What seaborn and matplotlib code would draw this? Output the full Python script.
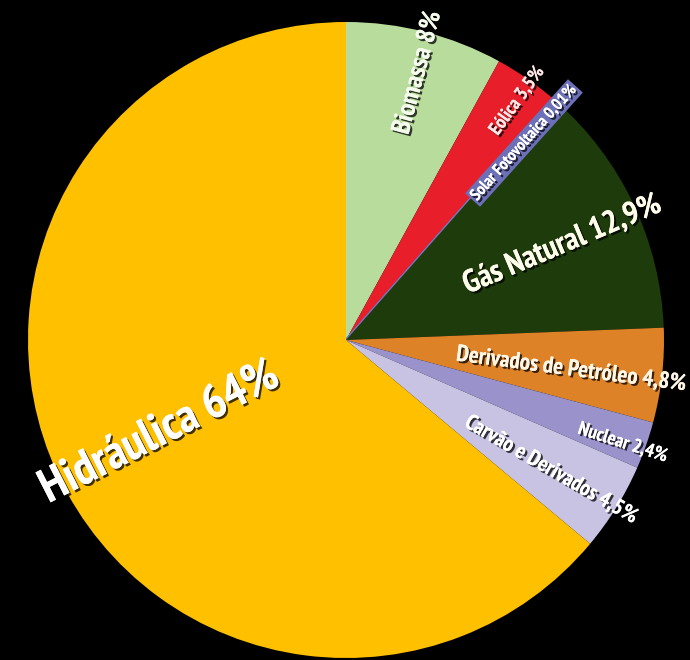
import numpy as np
import matplotlib
matplotlib.use("Agg")
import matplotlib.pyplot as plt
import matplotlib.patheffects as pe
from matplotlib import font_manager
import seaborn as sns

# Matriz elétrica brasileira (participação %)
fontes = ["Biomassa", "Eólica", "Solar Fotovoltaica", "Gás Natural",
          "Derivados de Petróleo", "Nuclear", "Carvão e Derivados", "Hidráulica"]
valores = [8.0, 3.5, 0.01, 12.9, 4.8, 2.4, 4.5, 64.0]
rotulos = ["Biomassa 8%", "Eólica 3,5%", "Solar Fotovoltaica 0,01%", "Gás Natural 12,9%",
           "Derivados de Petróleo 4,8%", "Nuclear 2,4%", "Carvão e Derivados 4,5%",
           "Hidráulica 64%"]
cores = ["#B8DC9C", "#E81E2B", "#7276C0", "#1E3B0C",
         "#DE8227", "#9A93CB", "#C8C2E3", "#FFC000"]

# label placement: (radius, angle in degrees), rotation, text length in pixels
rot_pos = [(0.870, 75.0), (0.925, 54.4), (0.835, 47.9), (0.742, 23.7),
           (0.714, -7.6), (0.929, -20.4), (0.763, -32.4), (0.654, 206.6)]
rot_ang = [75, 54, 48, 23, -7.5, -18, -30, 27]
rot_len = [126, 80, 150, 212, 232, 93, 196, 262]
rot_cor = ["#F4FAEC", "#FFE6E6", "#FFFFFF", "#FFFCEB",
           "#FFF6E6", "#FFFFFF", "#FFFFFF", "#FFFFFF"]

sns.set_theme(style="white")
names = {f.name for f in font_manager.fontManager.ttflist}
familia = next((f for f in ["PT Sans Narrow", "Fira Sans Condensed", "Asap Condensed",
                            "Liberation Sans Narrow"] if f in names), "DejaVu Sans")
plt.rcParams["font.family"] = [familia, "DejaVu Sans"]

W, H, DPI = 690, 660, 100
cx, cy, R = 346, 340, 318
fig = plt.figure(figsize=(W / DPI, H / DPI), dpi=DPI, facecolor="black")
ax = fig.add_axes([0, 0, 1, 1])
ax.set_facecolor("black")

wedges, _ = ax.pie(valores, colors=cores, startangle=90, counterclock=False,
                   radius=1, wedgeprops=dict(linewidth=0))
# the tiny solar wedge is outlined so it stays visible
wedges[2].set_edgecolor(cores[2])
wedges[2].set_linewidth(1.6)

ax.set_xlim(-cx / R, (W - cx) / R)
ax.set_ylim(-(H - cy) / R, cy / R)
ax.set_aspect("auto")
ax.axis("off")

sombra = [pe.withSimplePatchShadow(offset=(1.5, -1.5), shadow_rgbFace="black", alpha=0.75),
          pe.Normal()]
renderer = fig.canvas.get_renderer()
for i, txt in enumerate(rotulos):
    r, a = rot_pos[i]
    x, y = r * np.cos(np.radians(a)), r * np.sin(np.radians(a))
    kw = {}
    if i == 2:
        kw["bbox"] = dict(boxstyle="square,pad=0.12", facecolor="#6C70B8",
                          edgecolor="none")
    t = ax.text(x, y, txt, rotation=0, rotation_mode="anchor",
                ha="center", va="center", fontsize=20, fontweight="bold",
                color=rot_cor[i], path_effects=sombra, **kw)
    # size the label so its run length fits the wedge
    w = t.get_window_extent(renderer=renderer).width
    t.set_fontsize(20 * rot_len[i] / w)
    t.set_rotation(rot_ang[i])

fig.savefig("out.png", dpi=DPI, facecolor="black")
